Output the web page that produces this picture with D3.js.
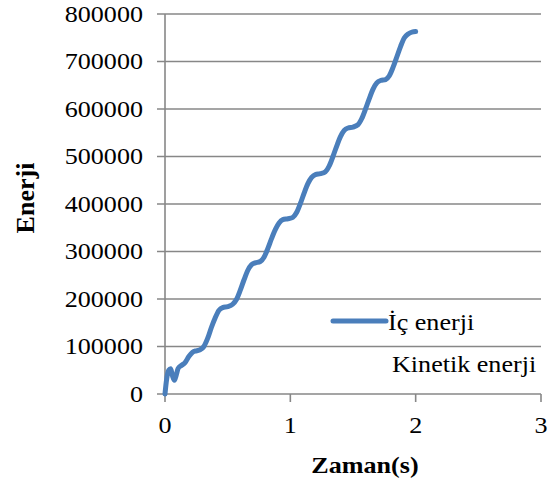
<!DOCTYPE html>
<html>
<head>
<meta charset="utf-8">
<script src="https://cdn.jsdelivr.net/npm/d3@7"></script>
<style>
  html, body { margin: 0; padding: 0; background: #fff; }
  svg { display: block; }
</style>
</head>
<body>
<svg id="chart" width="555" height="484"></svg>
<script>
// Time samples (s) and internal energy values
const zaman = [0, 0.01, 0.03, 0.045, 0.06, 0.075, 0.09, 0.105, 0.13, 0.16, 0.19, 0.22, 0.25, 0.28,
  0.31, 0.34, 0.37, 0.40, 0.43, 0.46, 0.50, 0.54, 0.57, 0.60, 0.63, 0.66, 0.69, 0.72, 0.76,
  0.79, 0.82, 0.85, 0.88, 0.91, 0.94, 0.98, 1.02, 1.05, 1.08, 1.11, 1.14, 1.17, 1.20, 1.24,
  1.28, 1.31, 1.34, 1.37, 1.40, 1.43, 1.46, 1.50, 1.54, 1.57, 1.60, 1.63, 1.66, 1.69, 1.72,
  1.76, 1.79, 1.82, 1.85, 1.88, 1.91, 1.94, 1.97, 2.0];
const icEnerji = [0, 25000, 50000, 53000, 38000, 29000, 40000, 54000, 60000, 66000, 79000, 88000, 91000, 93000,
  100000, 117000, 140000, 160000, 176000, 182000, 184000, 189000, 199000, 218000, 240000, 260000, 272000, 276000, 279000,
  288000, 306000, 327000, 346000, 360000, 367000, 369000, 372000, 382000, 401000, 423000, 443000, 456000, 462000, 464000,
  468000, 480000, 500000, 522000, 542000, 555000, 560000, 562000, 567000, 580000, 600000, 622000, 642000, 655000, 660000,
  662000, 670000, 688000, 710000, 732000, 750000, 758000, 762000, 763000];

const seriesNames = ["İç enerji", "Kinetik enerji"];
const yTicks = [0, 100000, 200000, 300000, 400000, 500000, 600000, 700000, 800000];
const xTicks = [0, 1, 2, 3];

const svg = d3.select("#chart");
const x = d3.scaleLinear().domain([0, 3]).range([165, 541]);
const y = d3.scaleLinear().domain([0, 800000]).range([394, 14]);

const gridColor = "#878787";
const serif = "'Liberation Serif', 'Times New Roman', serif";
const textStretch = 1.16;

// Places a horizontally widened serif label at (px, py)
function label(parent, px, py, str, opts = {}) {
  const g = parent.append("g").attr("transform", `translate(${px},${py})`);
  return g.append("text")
    .attr("transform", `scale(${textStretch},1)`)
    .attr("text-anchor", opts.anchor || "start")
    .attr("font-family", serif)
    .attr("font-size", opts.size || 22.5)
    .attr("font-weight", opts.bold ? "bold" : "normal")
    .attr("fill", "#000")
    .text(str);
}

// Horizontal gridlines (extend left as tick marks)
svg.append("g")
  .selectAll("line")
  .data(yTicks)
  .join("line")
  .attr("x1", 157).attr("x2", x(3))
  .attr("y1", d => y(d)).attr("y2", d => y(d))
  .attr("stroke", gridColor).attr("stroke-width", 1.6);

// Y axis line
svg.append("line")
  .attr("x1", x(0)).attr("x2", x(0))
  .attr("y1", y(800000)).attr("y2", y(0))
  .attr("stroke", gridColor).attr("stroke-width", 1.6);

// X axis ticks
svg.append("g")
  .selectAll("line")
  .data(xTicks)
  .join("line")
  .attr("x1", d => x(d)).attr("x2", d => x(d))
  .attr("y1", y(0)).attr("y2", y(0) + 8)
  .attr("stroke", gridColor).attr("stroke-width", 1.6);

// Y tick labels
const yLab = svg.append("g");
yTicks.forEach(d => label(yLab, 143, y(d) + 7.5, d, { anchor: "end" }));

// X tick labels
const xLab = svg.append("g");
xTicks.forEach(d => label(xLab, x(d), 433, d, { anchor: "middle" }));

// Axis titles
label(svg, 365, 473, "Zaman(s)", { anchor: "middle", bold: true });

svg.append("text")
  .attr("transform", "translate(34,198) rotate(-90)")
  .attr("text-anchor", "middle")
  .attr("font-family", serif)
  .attr("font-size", 26).attr("font-weight", "bold")
  .attr("fill", "#000")
  .text("Enerji");

// Internal energy curve
const pts = zaman.map((t, i) => [t, icEnerji[i]]);
const line = d3.line()
  .x(d => x(d[0]))
  .y(d => y(d[1]))
  .curve(d3.curveMonotoneX);

svg.append("path")
  .datum(pts)
  .attr("d", line)
  .attr("fill", "none")
  .attr("stroke", "#4a7ebb")
  .attr("stroke-width", 5)
  .attr("stroke-linecap", "round")
  .attr("stroke-linejoin", "round");

// Legend
svg.append("line")
  .attr("x1", 333).attr("x2", 386)
  .attr("y1", 321).attr("y2", 321)
  .attr("stroke", "#4a7ebb").attr("stroke-width", 5)
  .attr("stroke-linecap", "round");

label(svg, 388, 330, seriesNames[0]);
label(svg, 392, 372, seriesNames[1]);
</script>
</body>
</html>
